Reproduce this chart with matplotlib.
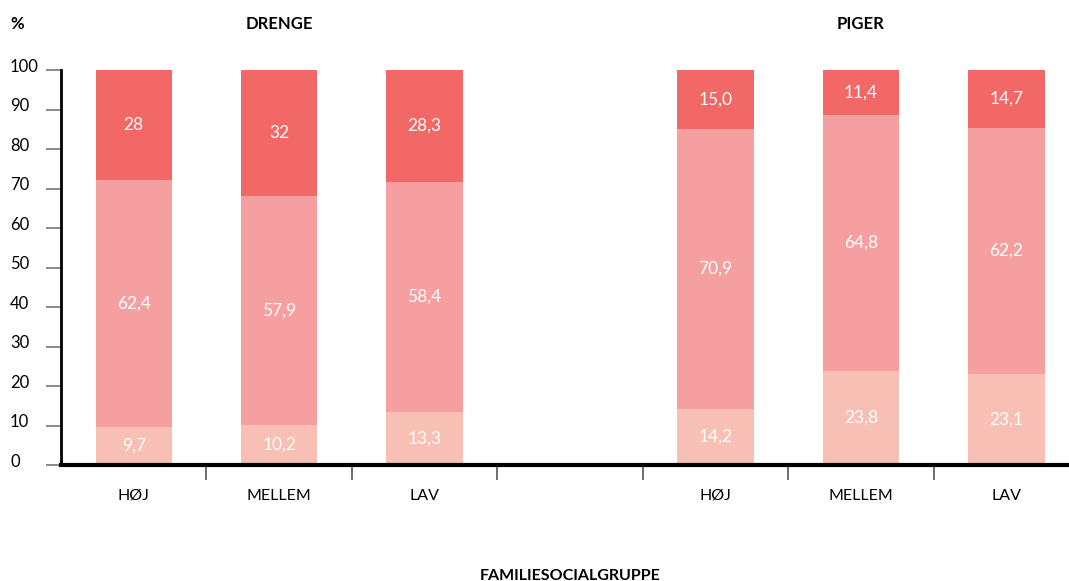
import numpy as np
import matplotlib.pyplot as plt
from matplotlib.transforms import ScaledTranslation

plt.rcParams['font.family'] = ['Lato', 'DejaVu Sans']

# data
grupper = ["HØJ", "MELLEM", "LAV", "", "HØJ", "MELLEM", "LAV"]
lav_andel = [9.7, 10.2, 13.3, np.nan, 14.2, 23.8, 23.1]
mellem_andel = [62.4, 57.9, 58.4, np.nan, 70.9, 64.8, 62.2]
hoej_andel = [28, 32, 28.3, np.nan, 15.0, 11.4, 14.7]
lav_txt = ["9,7", "10,2", "13,3", "", "14,2", "23,8", "23,1"]
mellem_txt = ["62,4", "57,9", "58,4", "", "70,9", "64,8", "62,2"]
hoej_txt = ["28", "32", "28,3", "", "15,0", "11,4", "14,7"]
yticks = [0, 10, 20, 30, 40, 50, 60, 70, 80, 90, 100]

farver = ["#F8BFB4", "#F59FA0", "#F26866"]

fig = plt.figure(figsize=(10.69, 5.81), dpi=100)
ax = fig.add_axes([61 / 1069, 1 - 465 / 581, 1 - 61 / 1069, (465 - 70) / 581])

x = np.arange(len(grupper))
lav = np.array(lav_andel)
mel = np.array(mellem_andel)
hoj = np.array(hoej_andel)
b = 0.525

ax.bar(x, lav, width=b, color=farver[0], zorder=2)
ax.bar(x, mel, width=b, bottom=lav, color=farver[1], zorder=2)
ax.bar(x, hoj, width=b, bottom=lav + mel, color=farver[2], zorder=2)

for i in range(len(grupper)):
    if not grupper[i]:
        continue
    segs = [(lav[i], 0, lav_txt[i]), (mel[i], lav[i], mellem_txt[i]),
            (hoj[i], lav[i] + mel[i], hoej_txt[i])]
    for h, bund, t in segs:
        top = min(bund + h, 100)
        ax.text(x[i], (bund + top) / 2, t, ha='center', va='center',
                color='white', fontsize=12.5, zorder=3)

ax.set_ylim(0, 100)
ax.set_xlim(-0.5, 6.43)
ax.set_yticks(yticks)
ax.set_yticklabels([str(v) for v in yticks], ha='left', fontsize=12)
ax.tick_params(axis='y', length=10.8, width=1.2, color='#777777', pad=25.9)
# tallene sidder lidt over stregerne
op = ScaledTranslation(0, 3.5 / 72, fig.dpi_scale_trans)
for lbl in ax.get_yticklabels():
    lbl.set_transform(lbl.get_transform() + op)

ax.set_xticks(x)
ax.set_xticklabels(grupper, fontsize=11.5)
ax.tick_params(axis='x', which='major', length=0, pad=17)
ax.set_xticks(np.arange(0.5, 6.5, 1), minor=True)
ax.tick_params(axis='x', which='minor', length=11, width=1.2, color='#555555')

for s in ['top', 'right']:
    ax.spines[s].set_visible(False)
ax.spines['left'].set_linewidth(2)
ax.spines['bottom'].set_linewidth(3)
ax.spines['left'].set_zorder(4)
ax.spines['bottom'].set_zorder(4)

fig.text(10 / 1069, 1 - 24 / 581, "%", fontsize=12, fontweight='bold', va='center', ha='left')
fig.text(279 / 1069, 1 - 24 / 581, "DRENGE", fontsize=12, fontweight='bold', va='center', ha='center')
fig.text(860 / 1069, 1 - 24 / 581, "PIGER", fontsize=12, fontweight='bold', va='center', ha='center')
fig.text(570 / 1069, 1 - 576 / 581, "FAMILIESOCIALGRUPPE", fontsize=11.5, fontweight='bold', va='center', ha='center')

fig.savefig("out.png", dpi=100)
